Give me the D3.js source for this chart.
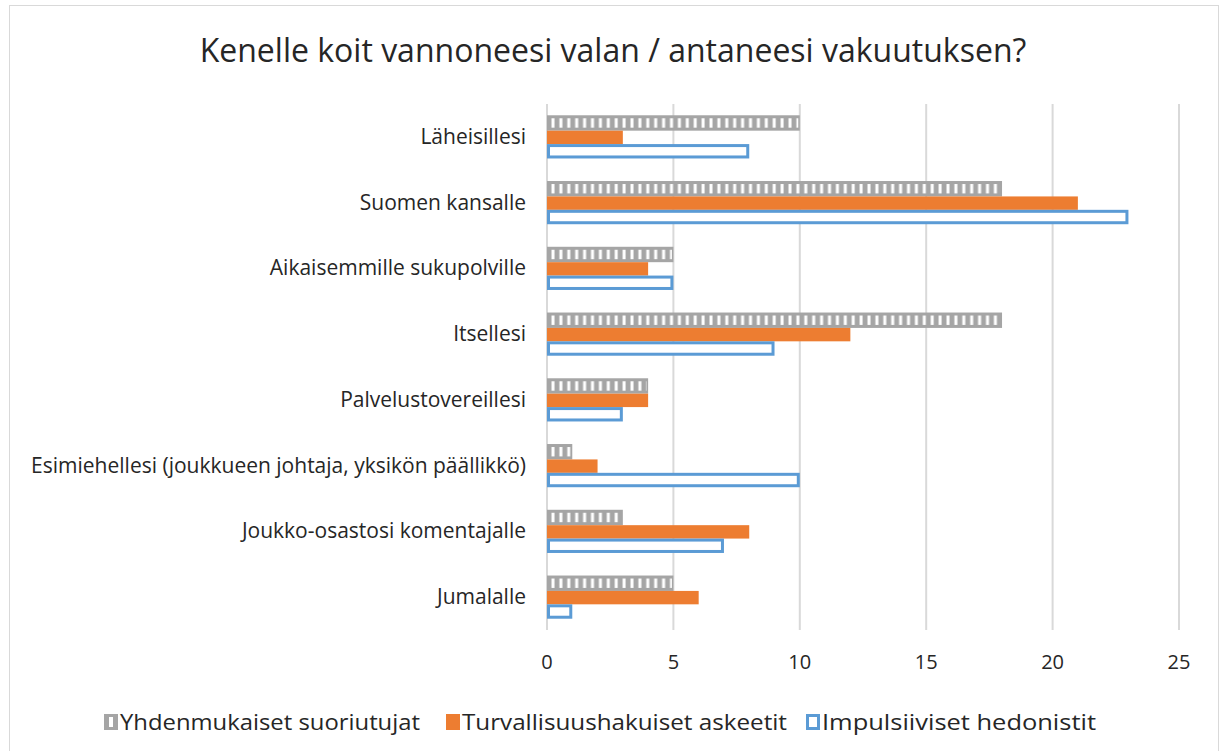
<!DOCTYPE html>
<html>
<head>
<meta charset="utf-8">
<script src="https://cdn.jsdelivr.net/npm/d3@7"></script>
<style>
  body { margin: 0; background: #fff; }
  text { font-family: "Open Sans", "Noto Sans", sans-serif; fill: #262626; }
</style>
</head>
<body>
<div id="chart"></div>
<script>
document.addEventListener('DOMContentLoaded', function() {

    const categories = [
        "Läheisillesi",
        "Suomen kansalle",
        "Aikaisemmille sukupolville",
        "Itsellesi",
        "Palvelustovereillesi",
        "Esimiehellesi (joukkueen johtaja, yksikön päällikkö)",
        "Joukko-osastosi komentajalle",
        "Jumalalle"
    ];
    const seriesNames = ["Yhdenmukaiset suoriutujat", "Turvallisuushakuiset askeetit", "Impulsiiviset hedonistit"];
    const yhdenmukaiset = [10, 18, 5, 18, 4, 1, 3, 5];
    const turvallisuus = [3, 21, 4, 12, 4, 2, 8, 6];
    const impulsiiviset = [8, 23, 5, 9, 3, 10, 7, 1];
    const xTicks = [0, 5, 10, 15, 20, 25];

    const width = 1226, height = 751;
    const svg = d3.select("#chart").append("svg")
                  .attr("width", width)
                  .attr("height", height);

    // kehys
    svg.append("rect")
       .attr("x", 9.5).attr("y", 5.5)
       .attr("width", 1209).attr("height", 780)
       .attr("fill", "#fff")
       .attr("stroke", "#d9d9d9");

    // raita-kuvio harmaille palkeille
    const defs = svg.append("defs");
    const pat = defs.append("pattern")
                    .attr("id", "stripes")
                    .attr("patternUnits", "userSpaceOnUse")
                    .attr("x", 549).attr("y", 0)
                    .attr("width", 7.9).attr("height", 10);
    pat.append("rect").attr("width", 7.9).attr("height", 10).attr("fill", "#a5a5a5");
    pat.append("rect").attr("x", 2.5).attr("width", 3).attr("height", 10).attr("fill", "#fff");

    const x = d3.scaleLinear().domain([0, 25]).range([547, 1179]);
    const y = d3.scaleBand().domain(categories).range([104, 630]);
    const barH = 14.4;

    // otsikko
    svg.append("text")
       .attr("x", 613).attr("y", 62)
       .attr("text-anchor", "middle")
       .attr("font-size", 32)
       .attr("fill", "#111")
       .text("Kenelle koit vannoneesi valan / antaneesi vakuutuksen?");

    // ruudukko
    svg.append("g")
       .selectAll("line")
       .data(xTicks)
       .enter()
       .append("line")
       .attr("x1", d => x(d)).attr("x2", d => x(d))
       .attr("y1", 104).attr("y2", 630)
       .attr("stroke", "#d9d9d9")
       .attr("stroke-width", 2);

    // x-akselin luvut
    svg.append("g")
       .selectAll("text")
       .data(xTicks)
       .enter()
       .append("text")
       .attr("x", d => x(d))
       .attr("y", 669)
       .attr("text-anchor", "middle")
       .attr("font-size", 20)
       .attr("fill", "#333")
       .text(d => d);

    // luokat
    svg.append("g")
       .selectAll("text")
       .data(categories)
       .enter()
       .append("text")
       .attr("x", 526)
       .attr("y", d => y(d) + y.bandwidth() / 2 + 7)
       .attr("text-anchor", "end")
       .attr("font-size", 21)
       .attr("fill", "#333")
       .text(d => d);

    const top = d => y(d) + y.bandwidth() / 2 - barH * 1.5;

    // harmaat palkit
    const g1 = svg.append("g");
    categories.forEach((c, i) => {
        const w = x(yhdenmukaiset[i]) - x(0);
        g1.append("rect")
          .attr("x", x(0)).attr("y", top(c))
          .attr("width", w).attr("height", barH + 1)
          .attr("fill", "#a5a5a5");
        g1.append("rect")
          .attr("x", x(0) + 1.5).attr("y", top(c) + 3)
          .attr("width", Math.max(0, w - 3)).attr("height", barH - 5)
          .attr("fill", "url(#stripes)");
    });

    // oranssit palkit
    svg.append("g")
       .selectAll("rect")
       .data(categories)
       .enter()
       .append("rect")
       .attr("x", x(0))
       .attr("y", d => top(d) + barH + 1)
       .attr("width", (d, i) => x(turvallisuus[i]) - x(0))
       .attr("height", barH - 1)
       .attr("fill", "#ed7d31");

    // siniset palkit
    svg.append("g")
       .selectAll("rect")
       .data(categories)
       .enter()
       .append("rect")
       .attr("x", x(0) + 1.5)
       .attr("y", d => top(d) + barH * 2 + 1.5)
       .attr("width", (d, i) => x(impulsiiviset[i]) - x(0) - 3)
       .attr("height", barH - 3)
       .attr("fill", "#fff")
       .attr("stroke", "#5b9bd5")
       .attr("stroke-width", 3);

    // selite
    const legend = svg.append("g");
    const legX = [104, 446, 806];
    const legW = [300, 325, 274];
    seriesNames.forEach((n, i) => {
        const lx = legX[i], ly = 714;
        if (i === 0) {
            legend.append("rect").attr("x", lx).attr("y", ly).attr("width", 14).attr("height", 16).attr("fill", "#a5a5a5");
            legend.append("rect").attr("x", lx + 5).attr("y", ly + 3).attr("width", 4).attr("height", 10).attr("fill", "#fff");
        } else if (i === 1) {
            legend.append("rect").attr("x", lx).attr("y", ly).attr("width", 14).attr("height", 16).attr("fill", "#ed7d31");
        } else {
            legend.append("rect").attr("x", lx + 1.5).attr("y", ly + 1.5).attr("width", 11).attr("height", 13)
                  .attr("fill", "#fff").attr("stroke", "#5b9bd5").attr("stroke-width", 3);
        }
        legend.append("text")
              .attr("x", lx + 16).attr("y", ly + 16)
              .attr("font-size", 22)
              .attr("fill", "#333")
              .attr("textLength", legW[i])
              .attr("lengthAdjust", "spacingAndGlyphs")
              .text(n);
    });

});
</script>
</body>
</html>
